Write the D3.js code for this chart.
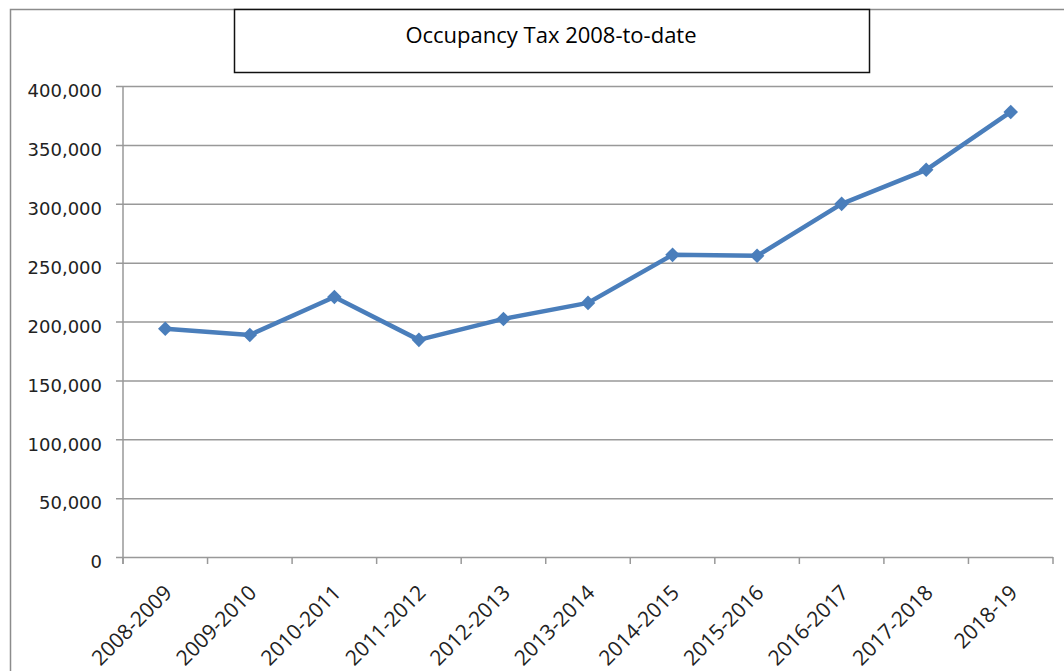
<!DOCTYPE html>
<html>
<head>
<meta charset="utf-8">
<script src="https://cdn.jsdelivr.net/npm/d3@7"></script>
<style>
  body { margin: 0; background: #fff; }
</style>
</head>
<body>
<script>
// data
const years = ['2008-2009','2009-2010','2010-2011','2011-2012','2012-2013','2013-2014',
               '2014-2015','2015-2016','2016-2017','2017-2018','2018-19'];
const taxValues = [193800, 188600, 220800, 184400, 202200, 215800,
                   256600, 255800, 299900, 328800, 378000];
const yTicks = [0, 50000, 100000, 150000, 200000, 250000, 300000, 350000, 400000];
const chartTitle = 'Occupancy Tax 2008-to-date';

const svgWid = 1064, svgHt = 671;
const margin = {top: 86, right: 11, bottom: 114, left: 123};
const innerW = svgWid - margin.left - margin.right;
const innerH = svgHt - margin.top - margin.bottom;

const svg = d3.select('body').append('svg').attr('width', svgWid).attr('height', svgHt);

// outer chart frame (cut off on right and bottom)
svg.append('path').attr('d', `M10.5,${svgHt} V9.5 H${svgWid}`)
  .attr('fill', 'none').attr('stroke', '#8c8c8c').attr('stroke-width', 1.5);

// title box
svg.append('rect').attr('x', 234.5).attr('y', 9.5).attr('width', 635).attr('height', 63)
  .attr('fill', '#fff').attr('stroke', '#111').attr('stroke-width', 1.5);
svg.append('text').text(chartTitle).attr('x', 551).attr('y', 43)
  .attr('text-anchor', 'middle').attr('font-family', 'Open Sans, sans-serif')
  .attr('font-size', '22px').attr('fill', '#000');

const g = svg.append('g').attr('transform', `translate(${margin.left},${margin.top})`);

const xScale = d3.scaleBand().domain(years).range([0, innerW]);
const yScale = d3.scaleLinear().domain([0, 400000]).range([innerH, 0]);

// y axis + gridlines
const yAxis = d3.axisLeft(yScale).tickValues(yTicks).tickFormat(d3.format(',')).tickSize(-innerW).tickPadding(21);
const yAxisG = g.append('g').call(yAxis);
yAxisG.select('.domain').remove();
yAxisG.selectAll('.tick line').attr('stroke', '#999').attr('stroke-width', 1.5).attr('x1', -7);
yAxisG.selectAll('.tick text').attr('font-family', 'DejaVu Sans, sans-serif')
  .attr('font-size', '18px').attr('fill', '#222').attr('dy', '0.6em');

// vertical axis line
g.append('line').attr('x1', 0).attr('x2', 0).attr('y1', 0).attr('y2', innerH + 7)
  .attr('stroke', '#999').attr('stroke-width', 1.5);

// x axis ticks at category boundaries
const bounds = years.map(d => xScale(d)).concat([innerW]);
g.selectAll('.xtick').data(bounds).enter().append('line')
  .attr('x1', d => d).attr('x2', d => d).attr('y1', innerH).attr('y2', innerH + 7)
  .attr('stroke', '#999').attr('stroke-width', 1.5);

// x labels rotated
g.selectAll('.xlabel').data(years).enter().append('text')
  .text(d => d)
  .attr('text-anchor', 'end')
  .attr('font-family', 'Open Sans, sans-serif').attr('font-size', '21px').attr('fill', '#222')
  .attr('transform', d => `translate(${xScale(d) + xScale.bandwidth() / 2 + 8},${innerH + 37}) rotate(-45)`);

// line
const line = d3.line().x((d, i) => xScale(years[i]) + xScale.bandwidth() / 2).y(d => yScale(d));
g.append('path').datum(taxValues).attr('d', line)
  .attr('fill', 'none').attr('stroke', '#4a7ebb').attr('stroke-width', 4.5).attr('stroke-linejoin', 'round');

// diamond markers
const diamond = d3.symbol().type(d3.symbolDiamond2).size(135);
g.selectAll('.pt').data(taxValues).enter().append('path')
  .attr('d', diamond)
  .attr('transform', (d, i) => `translate(${xScale(years[i]) + xScale.bandwidth() / 2},${yScale(d)})`)
  .attr('fill', '#4a7ebb');
</script>
</body>
</html>
